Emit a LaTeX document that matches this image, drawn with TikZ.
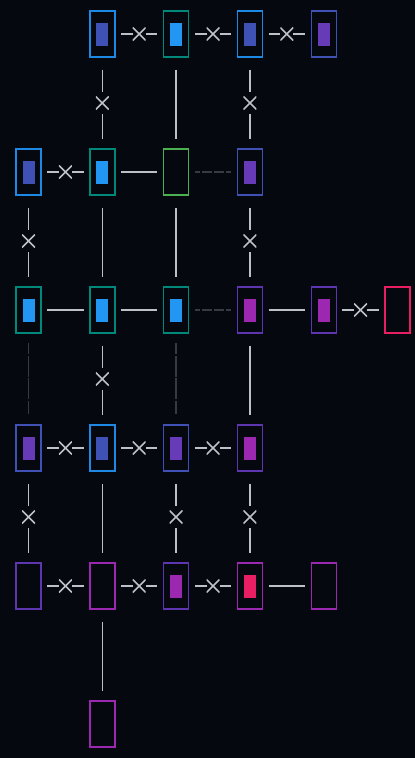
\documentclass[tikz,border=0pt]{standalone}
\usepackage{tikz}
\usetikzlibrary{calc}
\definecolor{bg}{HTML}{05080F}
\definecolor{wirec}{HTML}{BCC0C8}
\definecolor{dashc}{HTML}{363A42}
\definecolor{cblue}{HTML}{1E88E5}
\definecolor{fblue}{HTML}{2196F3}
\definecolor{cteal}{HTML}{00897B}
\definecolor{cgreen}{HTML}{4CAF50}
\definecolor{cindigo}{HTML}{3F51B5}
\definecolor{cdeep}{HTML}{5E35B1}
\definecolor{fdeep}{HTML}{673AB7}
\definecolor{cpurple}{HTML}{9C27B0}
\definecolor{cpink}{HTML}{E91E63}

\begin{document}
\begin{tikzpicture}[x=73.8pt,y=-138pt,
        cell/.style={draw=#1,line width=1.4pt,inner sep=0pt,minimum width=25pt,minimum height=46pt},
        core/.style={path picture={\fill[#1] ([shift={(-6pt,-11.5pt)}]path picture bounding box.center) rectangle ++(12pt,23pt);}},
        wire/.style={wirec,line width=1.6pt},
        hwire/.style={wire,shorten <=5.5pt,shorten >=5.5pt},
        vwire/.style={wire,shorten <=12pt,shorten >=9.5pt},
        hdash/.style={dashc,line width=1.5pt,shorten <=5.5pt,shorten >=5.5pt,dash pattern=on 10pt off 2pt,dash phase=5pt},
        vdash/.style={dashc,line width=1.5pt,shorten <=9.5pt,shorten >=10pt,dash pattern=on 21pt off 1.5pt,dash phase=10pt},
        cross/.style={wirec,line width=1.6pt,shorten <=0pt,shorten >=0pt},
        cuth/.style={fill=bg,inner sep=0pt,minimum width=13pt,minimum height=13pt,
            path picture={\draw[cross] ([shift={(-6.5pt,-6.5pt)}]path picture bounding box.center) -- ++(13pt,13pt)
                ([shift={(-6.5pt,6.5pt)}]path picture bounding box.center) -- ++(13pt,-13pt);}},
        cutv/.style={fill=bg,inner sep=0pt,minimum width=13pt,minimum height=22pt,
            path picture={\draw[cross] ([shift={(-6.5pt,-6.5pt)}]path picture bounding box.center) -- ++(13pt,13pt)
                ([shift={(-6.5pt,6.5pt)}]path picture bounding box.center) -- ++(13pt,-13pt);}}]
        \fill[bg] (-28.5pt,34pt) rectangle (386.5pt,-724pt);

        % row 0
        \node[cell=cblue,core=cindigo] (r0c1) at (1,0) {};
        \node[cell=cteal,core=fblue] (r0c2) at (2,0) {};
        \node[cell=cblue,core=cindigo] (r0c3) at (3,0) {};
        \node[cell=cindigo,core=fdeep] (r0c4) at (4,0) {};
        % row 1
        \node[cell=cblue,core=cindigo] (r1c0) at (0,1) {};
        \node[cell=cteal,core=fblue] (r1c1) at (1,1) {};
        \node[cell=cgreen] (r1c2) at (2,1) {};
        \node[cell=cindigo,core=fdeep] (r1c3) at (3,1) {};
        % row 2
        \node[cell=cteal,core=fblue] (r2c0) at (0,2) {};
        \node[cell=cteal,core=fblue] (r2c1) at (1,2) {};
        \node[cell=cteal,core=fblue] (r2c2) at (2,2) {};
        \node[cell=cdeep,core=cpurple] (r2c3) at (3,2) {};
        \node[cell=cdeep,core=cpurple] (r2c4) at (4,2) {};
        \node[cell=cpink] (r2c5) at (5,2) {};
        % row 3
        \node[cell=cindigo,core=fdeep] (r3c0) at (0,3) {};
        \node[cell=cblue,core=cindigo] (r3c1) at (1,3) {};
        \node[cell=cindigo,core=fdeep] (r3c2) at (2,3) {};
        \node[cell=cdeep,core=cpurple] (r3c3) at (3,3) {};
        % row 4
        \node[cell=cdeep] (r4c0) at (0,4) {};
        \node[cell=cpurple] (r4c1) at (1,4) {};
        \node[cell=cdeep,core=cpurple] (r4c2) at (2,4) {};
        \node[cell=cpurple,core=cpink] (r4c3) at (3,4) {};
        \node[cell=cpurple] (r4c4) at (4,4) {};
        % row 5
        \node[cell=cpurple] (r5c1) at (1,5) {};

        % horizontal links
        \draw[hwire] (r0c1) -- node[cuth]{} (r0c2);
        \draw[hwire] (r0c2) -- node[cuth]{} (r0c3);
        \draw[hwire] (r0c3) -- node[cuth]{} (r0c4);
        \draw[hwire] (r1c0) -- node[cuth]{} (r1c1);
        \draw[hwire] (r1c1) -- (r1c2);
        \draw[hdash] (r1c2) -- (r1c3);
        \draw[hwire] (r2c0) -- (r2c1);
        \draw[hwire] (r2c1) -- (r2c2);
        \draw[hdash] (r2c2) -- (r2c3);
        \draw[hwire] (r2c3) -- (r2c4);
        \draw[hwire] (r2c4) -- node[cuth]{} (r2c5);
        \draw[hwire] (r3c0) -- node[cuth]{} (r3c1);
        \draw[hwire] (r3c1) -- node[cuth]{} (r3c2);
        \draw[hwire] (r3c2) -- node[cuth]{} (r3c3);
        \draw[hwire] (r4c0) -- node[cuth]{} (r4c1);
        \draw[hwire] (r4c1) -- node[cuth]{} (r4c2);
        \draw[hwire] (r4c2) -- node[cuth]{} (r4c3);
        \draw[hwire] (r4c3) -- (r4c4);

        % vertical links
        \draw[vwire] (r0c1) -- node[cutv]{} (r1c1);
        \draw[vwire] (r0c2) -- (r1c2);
        \draw[vwire] (r0c3) -- node[cutv]{} (r1c3);
        \draw[vwire] (r1c0) -- node[cutv]{} (r2c0);
        \draw[vwire] (r1c1) -- (r2c1);
        \draw[vwire] (r1c2) -- (r2c2);
        \draw[vwire] (r1c3) -- node[cutv]{} (r2c3);
        \draw[vdash] (r2c0) -- (r3c0);
        \draw[vwire] (r2c1) -- node[cutv]{} (r3c1);
        \draw[vdash] (r2c2) -- (r3c2);
        \draw[vwire] (r2c3) -- (r3c3);
        \draw[vwire] (r3c0) -- node[cutv]{} (r4c0);
        \draw[vwire] (r3c1) -- (r4c1);
        \draw[vwire] (r3c2) -- node[cutv]{} (r4c2);
        \draw[vwire] (r3c3) -- node[cutv]{} (r4c3);
        \draw[vwire] (r4c1) -- (r5c1);
    \end{tikzpicture}
\end{document}
